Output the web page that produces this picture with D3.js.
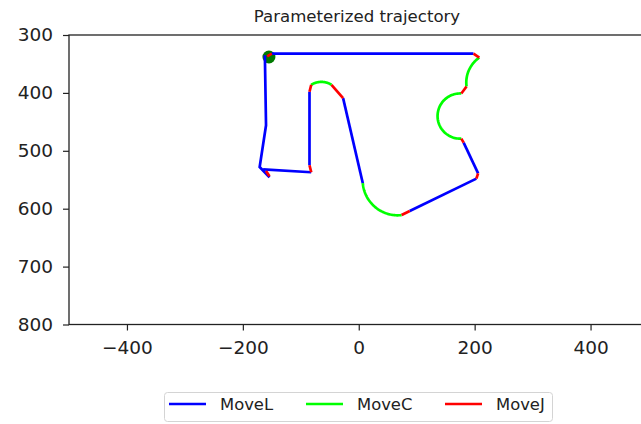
<!DOCTYPE html>
<html>
<head>
<meta charset="utf-8">
<script src="https://cdn.jsdelivr.net/npm/d3@7"></script>
<style>
  body { margin: 0; background: #fff; }
  svg { display: block; font-family: "DejaVu Sans", sans-serif; }
</style>
</head>
<body>
<svg id="chart" width="641" height="424"></svg>
<script>
// trajectory data (x, y in mm, y axis inverted)
var startPoint = [-155, 338];

var moveL = [
  [[-150, 332], [198, 332]],
  [[181, 486], [206, 539]],
  [[203, 548], [88, 604]],
  [[7, 556], [-27, 409]],
  [[-85, 398], [-85, 525]],
  [[-82, 537], [-165, 532]],
  [[-154, 546], [-171, 528], [-160, 456], [-162, 335]]
];

// start, via, end
var moveC = [
  [[208, 339], [190, 361], [186, 389]],
  [[177, 401], [136, 440], [177, 479]],
  [[74, 611], [22, 591], [7, 556]],
  [[-47, 386], [-64, 381], [-82, 386]]
];

var moveJ = [
  [[-158, 337], [-150, 332]],
  [[198, 332], [208, 339]],
  [[186, 389], [177, 401]],
  [[177, 479], [181, 486]],
  [[206, 539], [203, 548]],
  [[88, 604], [74, 611]],
  [[-27, 409], [-47, 386]],
  [[-82, 386], [-85, 398]],
  [[-85, 525], [-82, 537]],
  [[-160, 535], [-154, 544]]
];

var xTicks = [-400, -200, 0, 200, 400];
var yTicks = [300, 400, 500, 600, 700, 800];
var legendLabels = ['MoveL', 'MoveC', 'MoveJ'];
var legendColors = ['#0000ff', '#00ff00', '#ff0000'];

var svg = d3.select('#chart');

var x = d3.scaleLinear().domain([-500, 500]).range([69, 648.5]),
  y = d3.scaleLinear().domain([300, 800]).range([35, 324.5]);

var line = d3.line()
  .x(function (d) { return x(d[0]); })
  .y(function (d) { return y(d[1]); });

// circle through three points, sampled from start to end via the middle one
function arcPoints(p0, p1, p2, n) {
  var ax = p0[0], ay = p0[1], bx = p1[0], by = p1[1], cx = p2[0], cy = p2[1];
  var d = 2 * (ax * (by - cy) + bx * (cy - ay) + cx * (ay - by));
  var ux = ((ax * ax + ay * ay) * (by - cy) + (bx * bx + by * by) * (cy - ay) + (cx * cx + cy * cy) * (ay - by)) / d;
  var uy = ((ax * ax + ay * ay) * (cx - bx) + (bx * bx + by * by) * (ax - cx) + (cx * cx + cy * cy) * (bx - ax)) / d;
  var r = Math.hypot(ax - ux, ay - uy);
  var t0 = Math.atan2(ay - uy, ax - ux),
    t1 = Math.atan2(by - uy, bx - ux),
    t2 = Math.atan2(cy - uy, cx - ux);
  var TAU = 2 * Math.PI;
  function norm(a) { return (((a - t0) % TAU) + TAU) % TAU; }
  var d1 = norm(t1), d2 = norm(t2);
  var sweep = d1 < d2 ? d2 : d2 - TAU;
  return d3.range(n + 1).map(function (i) {
    var t = t0 + sweep * i / n;
    return [ux + r * Math.cos(t), uy + r * Math.sin(t)];
  });
}

// Start marker -------------------- //
svg.append('circle')
  .attr('cx', x(startPoint[0]))
  .attr('cy', y(startPoint[1]))
  .attr('r', 6.5)
  .style('fill', '#007a00');

// Segments ------------------------ //
var plot = svg.append('g')
  .style('fill', 'none')
  .style('stroke-width', 2.7)
  .style('stroke-linecap', 'butt');

plot.selectAll('path.movel')
  .data(moveL)
  .enter().append('path')
  .attr('class', 'movel')
  .attr('d', line)
  .style('stroke', legendColors[0]);

plot.selectAll('path.movec')
  .data(moveC)
  .enter().append('path')
  .attr('class', 'movec')
  .attr('d', function (d) { return line(arcPoints(d[0], d[1], d[2], 60)); })
  .style('stroke', legendColors[1]);

plot.selectAll('path.movej')
  .data(moveJ)
  .enter().append('path')
  .attr('class', 'movej')
  .attr('d', line)
  .style('stroke', legendColors[2]);

// Axes ---------------------------- //
var xAxis = svg.append('g')
  .attr('transform', 'translate(0,' + y(800) + ')')
  .call(d3.axisBottom(x).tickValues(xTicks).tickSize(6).tickPadding(10));

var yAxis = svg.append('g')
  .attr('transform', 'translate(' + x(-500) + ',0)')
  .call(d3.axisLeft(y).tickValues(yTicks).tickSize(6).tickPadding(10));

[xAxis, yAxis].forEach(function (a) {
  a.select('.domain').remove();
  a.selectAll('line').style('stroke', '#222').style('stroke-width', 1.2);
  a.selectAll('text')
    .style('font-family', '"DejaVu Sans", sans-serif')
    .style('font-size', '18.5px')
    .style('fill', '#222');
});

// spines
svg.append('rect')
  .attr('x', x(-500))
  .attr('y', y(300))
  .attr('width', x(500) - x(-500))
  .attr('height', y(800) - y(300))
  .style('fill', 'none')
  .style('stroke', '#222')
  .style('stroke-width', 1.3);

// Title --------------------------- //
svg.append('text')
  .attr('x', 357)
  .attr('y', 21.5)
  .attr('text-anchor', 'middle')
  .style('font-size', '16.6px')
  .style('fill', '#222')
  .text('Parameterized trajectory');

// Legend -------------------------- //
var legend = svg.append('g');
legend.append('rect')
  .attr('x', 164.5)
  .attr('y', 392.5)
  .attr('width', 388)
  .attr('height', 29)
  .attr('rx', 3)
  .style('fill', '#fff')
  .style('stroke', '#d4d4d4');

var items = legend.selectAll('g.item')
  .data(legendLabels)
  .enter().append('g')
  .attr('class', 'item')
  .attr('transform', function (d, i) { return 'translate(' + [169, 306, 445][i] + ',404)'; });

items.append('line')
  .attr('x1', 0).attr('x2', 37)
  .style('stroke', function (d, i) { return legendColors[i]; })
  .style('stroke-width', 2.6);

items.append('text')
  .attr('x', 51)
  .attr('y', 6)
  .style('font-size', '16.4px')
  .style('fill', '#222')
  .text(function (d) { return d; });
</script>
</body>
</html>
